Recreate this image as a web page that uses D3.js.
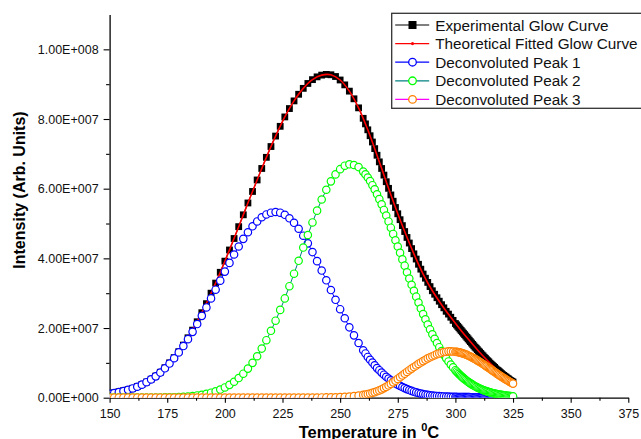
<!DOCTYPE html>
<html>
<head>
<meta charset="utf-8">
<script src="https://cdnjs.cloudflare.com/ajax/libs/d3/7.8.5/d3.min.js"></script>
<style>
body{margin:0;background:#fff;}
svg{display:block;font-family:"Liberation Sans",Arial,sans-serif;}
</style>
</head>
<body>
<div class="chart_tl"></div>
<script>
// temperatures of the measured / deconvoluted points (deg C)
var temps = [150,152,154,156,158,160,162,164,166,168,170,172,174,176,178,180,182,184,186,188,
  190,192,194,196,198,200,202,204,206,208,210,212,214,216,218,220,222,224,226,228,
  230,232,234,236,238,240,242,244,246,248,250,252,254,256,258,260,
  261,262,263,264,265,266,267,268,269,270,271,272,273,274,275,276,277,278,279,280,
  281,282,283,284,285,286,287,288,289,290,291,292,293,294,295,296,297,298,299,300,
  300.5,301,301.5,302,302.5,303,303.5,304,304.5,305,305.5,306,306.5,307,307.5,308,308.5,309,309.5,310,
  310.5,311,311.5,312,312.5,313,313.5,314,314.5,315,315.5,316,316.5,317,317.5,318,318.5,319,319.5,320,
  320.5,321,321.5,322,322.5,323,323.5,324,324.5,325];

// intensities in units of 1E+006
var expCurve = [1.2,1.4,1.7,2.0,2.3,2.7,3.2,3.8,4.5,5.3,6.2,7.3,8.6,10.0,11.5,13.2,15.1,17.2,19.4,21.8,
  24.4,27.0,30.0,32.9,36.0,39.2,42.4,45.7,49.1,52.5,55.9,59.2,62.5,65.8,69.0,72.1,75.1,77.9,80.6,83.0,
  85.2,87.1,88.8,90.2,91.3,92.1,92.6,92.8,92.7,92.2,91.2,89.8,88.0,85.8,83.2,80.2,
  78.6,76.9,75.2,73.4,71.5,69.6,67.7,65.8,63.9,62.0,60.1,58.2,56.4,54.6,52.8,51.1,49.4,47.7,46.0,44.4,
  42.8,41.3,39.8,38.3,36.9,35.5,34.3,33.1,31.9,30.7,29.7,28.7,27.7,26.7,25.8,24.8,24.0,23.1,22.2,21.3,
  20.9,20.5,20.1,19.7,19.3,18.9,18.5,18.1,17.7,17.3,16.9,16.5,16.1,15.7,15.3,14.9,14.5,14.2,13.8,13.4,
  13.1,12.7,12.3,12.0,11.6,11.3,10.9,10.6,10.3,9.9,9.6,9.3,9.0,8.7,8.3,8.0,7.8,7.5,7.2,6.9,
  6.6,6.4,6.1,5.9,5.6,5.4,5.1,4.9,4.7,4.5];

var fitTemps = [150,154,158,162,166,170,174,178,182,186,190,194,198,202,206,210,214,218,222,226,
  230,234,238,242,246,250,254,258,262,266,270,274,278,282,286,290,294,298,302,306,
  310,314,318,322,325];
var fitCurve = [1.15,1.65,2.3,3.2,4.5,6.22,8.57,11.53,15.14,19.43,24.39,29.98,35.98,42.44,49.09,55.9,62.5,69.0,75.1,80.6,
  85.2,88.8,91.3,92.6,92.7,91.2,88.0,83.2,76.9,69.6,62.0,54.6,47.7,41.3,35.5,30.7,26.7,23.07,19.66,16.47,
  13.41,10.59,8.04,5.86,4.5];

var peak1 = [1.1,1.35,1.6,1.9,2.25,2.65,3.15,3.75,4.45,5.25,6.13,7.21,8.44,9.81,11.33,13.0,14.82,16.8,18.9,21.14,
  23.5,25.9,28.5,31.0,33.6,36.2,38.7,41.1,43.4,45.6,47.5,49.2,50.6,51.8,52.6,53.1,53.3,53.1,52.5,51.5,
  50.2,48.5,46.5,44.3,41.8,39.2,36.5,33.7,30.9,28.1,25.4,22.8,20.2,17.9,15.7,13.6,
  12.7,11.7,10.9,10.1,9.3,8.5,7.9,7.2,6.6,6.0,5.5,5.0,4.6,4.1,3.75,3.4,3.05,2.75,2.47,2.2,
  1.95,1.72,1.52,1.34,1.18,1.04,0.92,0.81,0.71,0.63,0.56,0.5,0.45,0.4,0.36,0.33,0.3,0.27,0.25,0.23,
  0.22,0.21,0.2,0.2,0.19,0.19,0.18,0.18,0.17,0.17,0.16,0.16,0.15,0.15,0.14,0.14,0.13,0.13,0.13,0.12,
  0.12,0.12,0.11,0.11,0.11,0.1,0.1,0.1,0.09,0.09,0.09,0.09,0.08,0.08,0.08,0.08,0.08,0.07,0.07,0.07,
  0.07,0.06,0.06,0.06,0.06,0.06,0.05,0.05,0.05,0.05];

var peak2 = [0.01,0.01,0.01,0.01,0.01,0.01,0.01,0.01,0.01,0.02,0.04,0.06,0.08,0.11,0.15,0.19,0.27,0.36,0.48,0.64,
  0.84,1.1,1.43,1.83,2.33,2.94,3.69,4.58,5.64,6.89,8.35,10.0,11.9,14.1,16.5,19.2,22.1,25.2,28.5,32.0,
  35.6,39.3,43.1,46.7,50.3,53.7,56.9,59.7,62.1,64.1,65.6,66.6,67.0,66.8,66.2,64.9,
  64.1,63.2,62.2,61.0,59.8,58.4,57.0,55.5,53.9,52.3,50.6,48.8,47.0,45.2,43.4,41.6,39.7,37.9,36.0,34.2,
  32.4,30.7,29.0,27.3,25.6,24.0,22.5,21.0,19.6,18.2,16.9,15.7,14.5,13.4,12.3,11.3,10.4,9.5,8.7,7.9,
  7.54,7.18,6.84,6.51,6.2,5.9,5.61,5.33,5.07,4.81,4.57,4.33,4.11,3.89,3.68,3.48,3.3,3.12,2.95,2.78,
  2.63,2.48,2.34,2.2,2.08,1.96,1.84,1.73,1.63,1.53,1.44,1.35,1.27,1.19,1.11,1.04,0.97,0.91,0.85,0.8,
  0.75,0.7,0.65,0.61,0.57,0.53,0.49,0.46,0.43,0.4];

var peak3 = [0.04,0.04,0.04,0.04,0.04,0.04,0.04,0.04,0.04,0.04,0.04,0.04,0.04,0.04,0.04,0.04,0.04,0.04,0.04,0.04,
  0.04,0.04,0.04,0.04,0.05,0.05,0.05,0.05,0.05,0.05,0.05,0.05,0.05,0.05,0.05,0.05,0.05,0.05,0.05,0.05,
  0.05,0.05,0.05,0.05,0.05,0.06,0.07,0.08,0.1,0.13,0.17,0.24,0.33,0.45,0.6,0.8,
  0.92,1.05,1.2,1.4,1.6,1.85,2.1,2.4,2.75,3.1,3.5,3.95,4.4,4.9,5.4,5.9,6.4,6.9,7.4,7.9,
  8.35,8.8,9.25,9.7,10.1,10.5,10.9,11.3,11.6,11.9,12.2,12.5,12.7,12.9,13.1,13.2,13.3,13.3,13.25,13.2,
  13.15,13.1,13.03,12.95,12.86,12.77,12.66,12.54,12.41,12.28,12.13,11.98,11.82,11.65,11.48,11.3,11.11,10.92,10.72,10.51,
  10.3,10.09,9.88,9.66,9.44,9.21,8.99,8.76,8.53,8.3,8.07,7.84,7.61,7.38,7.15,6.92,6.7,6.47,6.25,6.04,
  5.82,5.61,5.4,5.19,4.99,4.79,4.6,4.41,4.23,4.05];

var xTicks = [150,175,200,225,250,275,300,325,350,375];
var xMinor = [162.5,187.5,212.5,237.5,262.5,287.5,312.5,337.5,362.5];
var yTicks = [0,2e7,4e7,6e7,8e7,1e8];
var yTickLabels = ["0.00E+000","2.00E+007","4.00E+007","6.00E+007","8.00E+007","1.00E+008"];
var yMinor = [1e7,3e7,5e7,7e7,9e7];
var legendLabels = ["Experimental Glow Curve","Theoretical Fitted Glow Curve",
  "Deconvoluted Peak 1","Deconvoluted Peak 2","Deconvoluted Peak 3"];

var margin = {top:14.5, right:12.7, bottom:41.3, left:109.6}
  , width = 641 - margin.left - margin.right
  , height = 439 - margin.top - margin.bottom;
var unit = 1e6;

var xScale = d3.scaleLinear().domain([150,375]).range([0,width]);
var yScale = d3.scaleLinear().domain([0,1.1e8]).range([height,0]);

var svg = d3.select(".chart_tl").append("svg")
  .attr("width",641)
  .attr("height",439);

var g = svg.append("g")
  .attr("transform","translate("+margin.left+","+margin.top+")");

svg.append("defs").append("clipPath")
  .attr("id","plotClip")
  .append("rect")
  .attr("x",0).attr("y",-10)
  .attr("width",width+10).attr("height",height+10);

// axes
g.append("g")
  .attr("class","y axis")
  .call(d3.axisLeft(yScale).tickValues(yTicks)
    .tickFormat(function(d,i){return yTickLabels[i];})
    .tickSize(6).tickSizeOuter(0).tickPadding(5));
g.append("g")
  .attr("class","y minor")
  .call(d3.axisLeft(yScale).tickValues(yMinor).tickFormat("").tickSize(3.5).tickSizeOuter(0))
  .select(".domain").remove();

g.append("g")
  .attr("class","x axis")
  .attr("transform","translate(0,"+height+")")
  .call(d3.axisBottom(xScale).tickValues(xTicks).tickSize(5).tickSizeOuter(0).tickPadding(6));
g.append("g")
  .attr("class","x minor")
  .attr("transform","translate(0,"+height+")")
  .call(d3.axisBottom(xScale).tickValues(xMinor).tickFormat("").tickSize(3).tickSizeOuter(0))
  .select(".domain").remove();

g.selectAll(".axis, .minor")
  .attr("font-size",12.5)
  .attr("font-family","'Liberation Sans',Arial,sans-serif");
g.selectAll(".axis text").attr("fill","#111");
g.selectAll(".domain").attr("stroke","#000").attr("stroke-width",1.3);
g.selectAll(".tick line").attr("stroke","#000").attr("stroke-width",1.1);

// axis titles
svg.append("text")
  .attr("transform","translate(25,190) rotate(-90)")
  .attr("text-anchor","middle")
  .attr("font-size",16)
  .attr("font-weight","bold")
  .text("Intensity (Arb. Units)");

var xt = svg.append("text")
  .attr("x",margin.left+width/2)
  .attr("y",437.5)
  .attr("text-anchor","middle")
  .attr("font-size",16.5)
  .attr("font-weight","bold");
xt.append("tspan").text("Temperature in ");
xt.append("tspan").attr("font-size",11).attr("dy",-7).text("0");
xt.append("tspan").attr("dy",7).text("C");

// series
var plot = g.append("g").attr("clip-path","url(#plotClip)");

function series(vals){
  return temps.map(function(t,i){return {x:t,y:vals[i]*unit};});
}
var line = d3.line()
  .x(function(d){return xScale(d.x);})
  .y(function(d){return yScale(d.y);});

var expData = series(expCurve);
plot.append("path")
  .datum(expData)
  .attr("fill","none")
  .attr("stroke","#000")
  .attr("stroke-width",1)
  .attr("d",line);
plot.selectAll(".sq")
  .data(expData)
  .enter().append("rect")
  .attr("class","sq")
  .attr("x",function(d){return xScale(d.x)-3.4;})
  .attr("y",function(d){return yScale(d.y)-3.4;})
  .attr("width",6.8)
  .attr("height",6.8)
  .attr("fill","#000");

var fitData = fitTemps.map(function(t,i){return {x:t,y:fitCurve[i]*unit};});
plot.append("path")
  .datum(fitData)
  .attr("fill","none")
  .attr("stroke","#ff0000")
  .attr("stroke-width",1.6)
  .attr("d",line.curve(d3.curveCatmullRom));
line.curve(d3.curveLinear);

var peaks = [
  {vals:peak1, line:"#0000ff", mark:"#0000ff"},
  {vals:peak2, line:"#008080", mark:"#00ff00"},
  {vals:peak3, line:"#ff00ff", mark:"#ff8000"}
];
peaks.forEach(function(p){
  var data = series(p.vals);
  plot.append("path")
    .datum(data)
    .attr("fill","none")
    .attr("stroke",p.line)
    .attr("stroke-width",1)
    .attr("d",line);
  plot.selectAll(null)
    .data(data)
    .enter().append("circle")
    .attr("cx",function(d){return xScale(d.x);})
    .attr("cy",function(d){return yScale(d.y);})
    .attr("r",3.7)
    .attr("fill","#fff")
    .attr("stroke",p.mark)
    .attr("stroke-width",1.2);
});

// legend
var legend = svg.append("g")
  .attr("transform","translate(391.7,13.3)");
legend.append("rect")
  .attr("width",300)
  .attr("height",95)
  .attr("fill","#fff")
  .attr("stroke","#333")
  .attr("stroke-width",1.3);

var legendStyle = [
  {line:"#000", mark:"square", color:"#000"},
  {line:"#ff0000", mark:"dot", color:"#ff0000"},
  {line:"#0000ff", mark:"circle", color:"#0000ff"},
  {line:"#008080", mark:"circle", color:"#00ff00"},
  {line:"#ff00ff", mark:"circle", color:"#ff8000"}
];
var rows = legend.selectAll(".row")
  .data(legendLabels)
  .enter().append("g")
  .attr("class","row")
  .attr("transform",function(d,i){return "translate(0,"+(11.7+i*18.6)+")";});
rows.append("line")
  .attr("x1",3.5).attr("x2",37.5)
  .attr("stroke",function(d,i){return legendStyle[i].line;})
  .attr("stroke-width",1.2);
rows.each(function(d,i){
  var s = legendStyle[i], r = d3.select(this);
  if(s.mark=="square"){
    r.append("rect").attr("x",16.8).attr("y",-4).attr("width",8).attr("height",8).attr("fill","#000");
  }else if(s.mark=="dot"){
    r.append("circle").attr("cx",20.8).attr("r",1.6).attr("fill",s.color);
  }else{
    r.append("circle").attr("cx",20.8).attr("r",3.8).attr("fill","#fff")
      .attr("stroke",s.color).attr("stroke-width",1.3);
  }
});
rows.append("text")
  .attr("x",43.5)
  .attr("dy","0.36em")
  .attr("font-size",15.3)
  .attr("fill","#111")
  .text(function(d){return d;});
</script>
</body>
</html>
